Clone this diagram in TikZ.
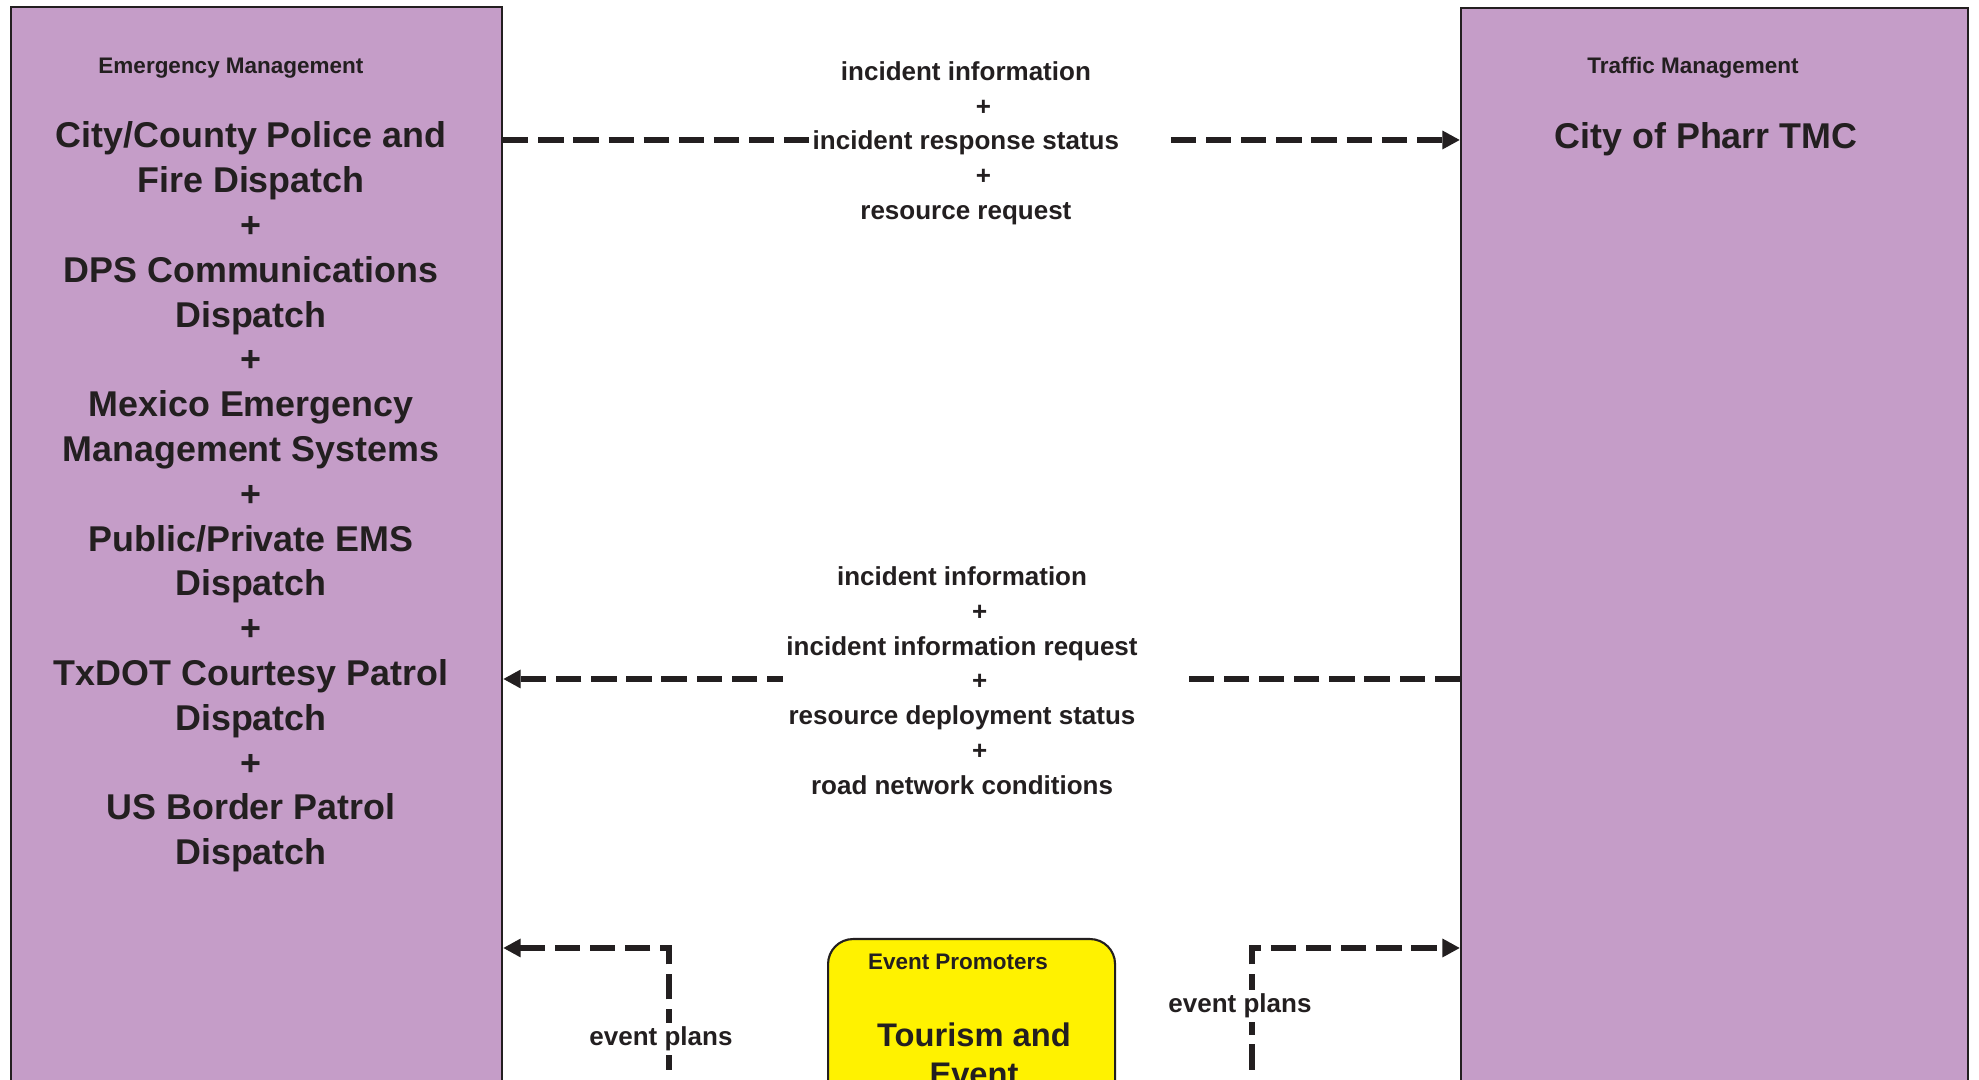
\documentclass[tikz,border=0pt]{standalone}
\usepackage{fontspec}
\setmainfont{Liberation Sans}
\usepackage{tkz-euclide}
\usetikzlibrary{arrows.meta,calc}
\definecolor{SysClr}{RGB}{197,157,200}
\definecolor{EventClr}{RGB}{255,242,0}
\definecolor{InkClr}{RGB}{35,31,32}
\newcommand{\flowplus}{\hspace*{10pt}+}

\begin{document}
\begin{tikzpicture}[
  sysbox/.style={draw=InkClr,line width=0.6pt,anchor=north west,inner sep=0pt},
  catlbl/.style={text=InkClr,inner sep=0pt,font=\fontsize{6.4}{7.7}\selectfont\bfseries},
  namelbl/.style={text=InkClr,align=center,inner sep=0pt,font=\fontsize{10.2}{12.75}\selectfont\bfseries},
  flowlbl/.style={text=InkClr,align=center,fill=white,inner sep=1pt,font=\fontsize{7.4}{9.9}\selectfont\bfseries},
  flow/.style={draw=InkClr,line width=1.5pt,dash pattern=on 7.2pt off 2.8pt,-{Triangle[length=5pt,width=5pt]}}]

\useasboundingbox (0,0) rectangle (19.79,10.80);
\fill[white] (0,0) rectangle (19.79,10.80);
\clip (0,0) rectangle (19.79,10.80);

\tkzDefPoints{9.66/9.40/pA,9.62/4.01/pB,6.69/-0.60/pC,6.69/1.32/pCC,12.52/-0.60/pD,12.52/1.32/pDD}

\node[sysbox,fill=SysClr,minimum width=4.91cm,minimum height=12cm] (EM) at (0.10,10.74) {};
\node[sysbox,fill=SysClr,minimum width=5.07cm,minimum height=12cm] (TM) at (14.60,10.73) {};
\node[sysbox,fill=EventClr,rounded corners=0.25cm,minimum width=2.87cm,minimum height=3cm] (TE) at (8.27,1.42) {};

\draw[flow] (EM.east |- pA) -- (TM.west |- pA);
\draw[flow] (TM.west |- pB) -- (EM.east |- pB);
\draw[flow] (pC) -- (pCC) -- (EM.east |- pCC);
\draw[flow] (pD) -- (pDD) -- (TM.west |- pDD);

\node[catlbl] (EMcat) at (2.31,10.12) {Emergency Management};
\node[namelbl] (EMname) at (2.51,5.83) {City/County Police and\\Fire Dispatch\\+\\DPS Communications\\Dispatch\\+\\Mexico Emergency\\Management Systems\\+\\Public/Private EMS\\Dispatch\\+\\TxDOT Courtesy Patrol\\Dispatch\\+\\US Border Patrol\\Dispatch};

\node[catlbl] (TMcat) at (16.93,10.12) {Traffic Management};
\node[namelbl] (TMname) at (17.06,9.41) {City of Pharr TMC};

\node[catlbl] (TEcat) at (9.58,1.18) {Event Promoters};
\node[namelbl,anchor=north,font=\fontsize{9.3}{11.2}\selectfont\bfseries] (TEname) at (9.74,0.58) {Tourism and\\Event};

\node[flowlbl,xshift=0.21cm,yshift=-0.03cm] (IA) at (pA) {\begin{tabular}{@{}c@{}}incident information\\\flowplus\\incident response status\\\flowplus\\resource request\end{tabular}\hspace*{12pt}};
\node[flowlbl,xshift=0.22cm,yshift=-0.04cm] (IB) at (pB) {\begin{tabular}{@{}c@{}}incident information\\\flowplus\\incident information request\\\flowplus\\resource deployment status\\\flowplus\\road network conditions\end{tabular}\hspace*{12.5pt}};
\node[flowlbl] (EPa) at (6.61,0.41) {event plans};
\node[flowlbl] (EPb) at (12.40,0.74) {event plans};

\end{tikzpicture}
\end{document}
